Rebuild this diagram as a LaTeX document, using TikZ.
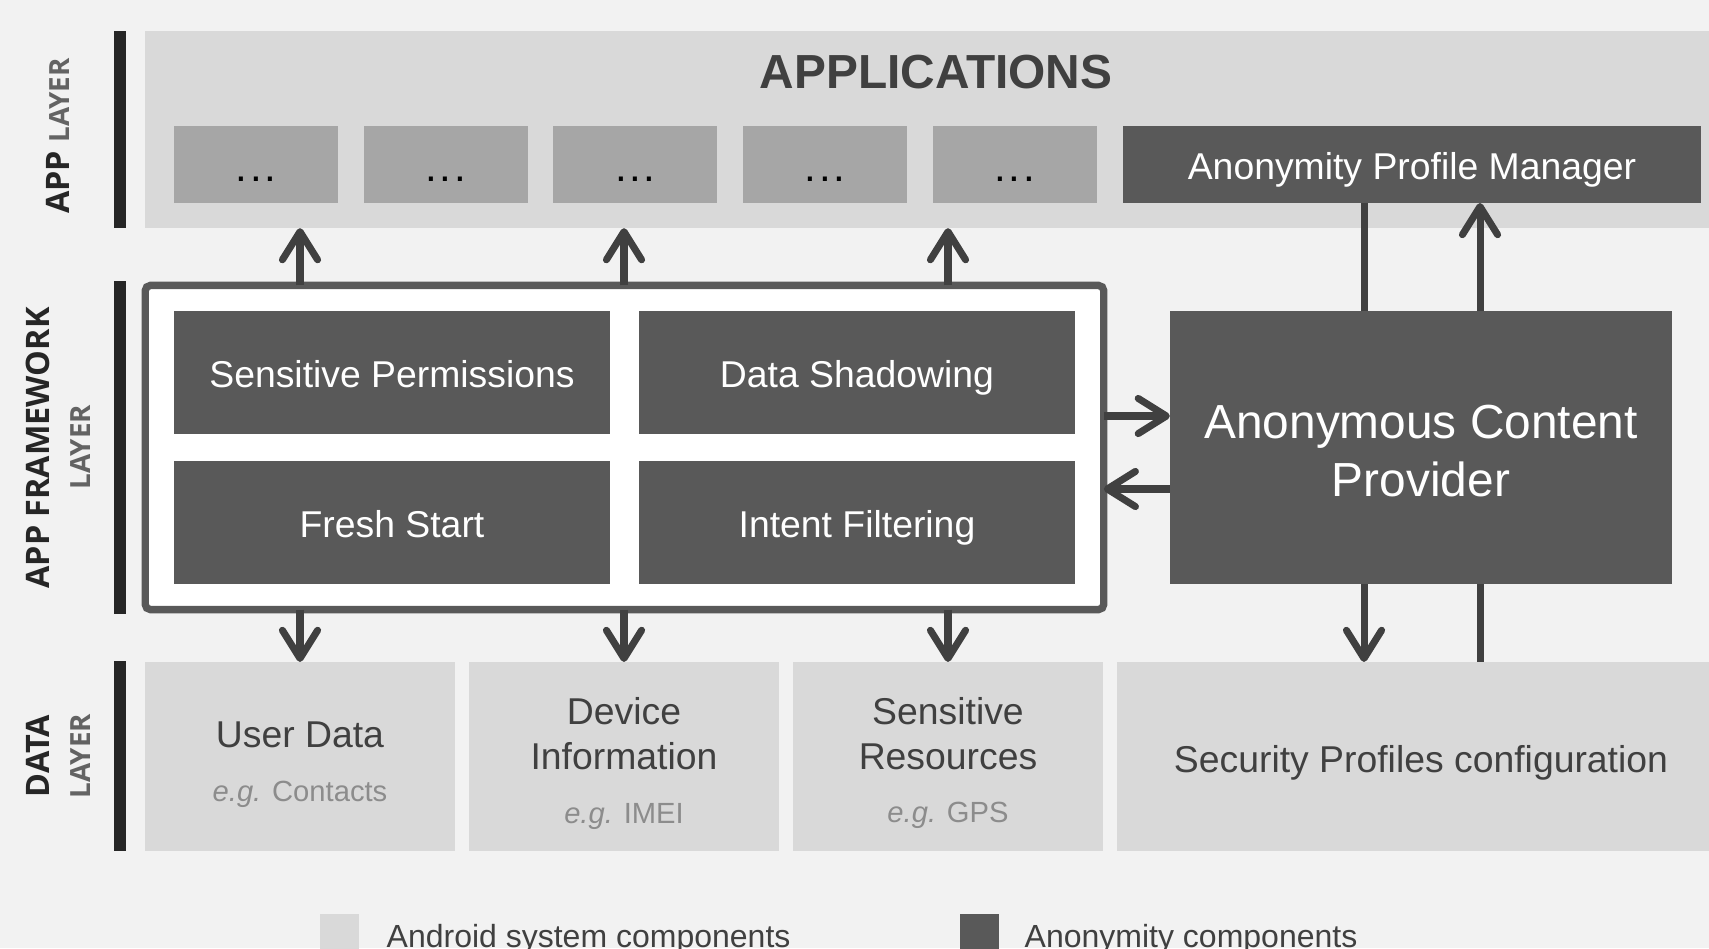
\documentclass[tikz,border=0pt]{standalone}
\usepackage{fontspec}
\setmainfont{Liberation Sans}
\newfontfamily\labfont{Open Sans}
\usetikzlibrary{arrows.meta}
\definecolor{bgc}{HTML}{F2F2F2}
\definecolor{lightc}{HTML}{D9D9D9}
\definecolor{midc}{HTML}{A6A6A6}
\definecolor{darkc}{HTML}{595959}
\definecolor{arrc}{HTML}{404040}
\definecolor{txtc}{HTML}{404040}
\definecolor{egc}{HTML}{8C8C8C}
\definecolor{barc}{HTML}{262626}
\definecolor{labc}{HTML}{262626}
\definecolor{labtwoc}{HTML}{636363}
\newcommand\fsbox{\fontsize{10.62pt}{12.7pt}\selectfont}
\newcommand\fsbig{\fontsize{13.6pt}{16.5pt}\selectfont}
\newcommand\fseg{\fontsize{8.3pt}{10pt}\selectfont}
\newcommand\fsleg{\fontsize{9.1pt}{11pt}\selectfont}
\newcommand\fslab{\fontsize{9.2pt}{11pt}\selectfont}
\newcommand\fslabs{\fontsize{7.9pt}{10pt}\selectfont}
\newcommand\appdots{.\hspace{0.75pt}.\hspace{0.75pt}.}
\begin{document}
\begin{tikzpicture}[x=0.01cm,y=-0.01cm,
  box/.style={rectangle, inner sep=0pt, outer sep=0pt},
  lightbox/.style={box, fill=lightc},
  appbox/.style={box, fill=midc, minimum width=1.64cm, minimum height=0.77cm,
     font=\fontsize{12pt}{14pt}\selectfont, text=black, text height=9.6pt, text depth=0pt},
  darkbox/.style={box, fill=darkc, text=white, font=\fsbox, text height=8.8pt, text depth=0pt},
  bar/.style={box, fill=barc, minimum width=0.11cm},
  boxtext/.style={anchor=base, font=\fsbox, text=txtc, inner sep=0pt},
  bigtext/.style={anchor=base, font=\fsbig, text=white, inner sep=0pt},
  egtext/.style={anchor=base, font=\fseg, text=egc, inner sep=0pt},
  lab/.style={rotate=90, inner sep=0pt, font=\labfont\fslab\bfseries, text=labc},
  labsmall/.style={rotate=90, inner sep=0pt, font=\labfont\fslabs\bfseries, text=labtwoc},
  conn/.style={draw=arrc, line width=2pt},
  arr/.style={conn, -{Straight Barb[length=8pt,width=10pt,round]}},
  legtext/.style={anchor=base west, font=\fsleg, text=txtc, inner sep=0pt}
]
\useasboundingbox (0,0) rectangle (1709,948);
\clip (0,0) rectangle (1709,948);
\fill[bgc] (0,0) rectangle (1709,948);

% layer bars and labels
\node[bar, minimum height=1.97cm] (barapp) at (120,129.5) {};
\node[bar, minimum height=3.33cm] (barfw) at (120,447.5) {};
\node[bar, minimum height=1.90cm] (bardata) at (120,756) {};
\node[lab] (labapp) at (58,136) {APP {\fslabs\color{labtwoc}LAYER}};
\node[lab] (labfw) at (38,448) {APP FRAMEWORK};
\node[labsmall] (labfwl) at (81,447) {LAYER};
\node[lab] (labdata) at (38,756) {DATA};
\node[labsmall] (labdatal) at (81,756) {LAYER};

% app layer
\node[lightbox, minimum width=15.80cm, minimum height=1.97cm, anchor=north west] (appbg) at (145,31) {};
\node[anchor=base, font=\fsbig\bfseries, text=arrc, inner sep=0pt] (apptitle) at (936,88) {APPLICATIONS};
\node[appbox] (a1) at (256,164.5) {\appdots};
\node[appbox] (a2) at (445.7,164.5) {\appdots};
\node[appbox] (a3) at (635.4,164.5) {\appdots};
\node[appbox] (a4) at (825.1,164.5) {\appdots};
\node[appbox] (a5) at (1014.8,164.5) {\appdots};
\node[darkbox, minimum width=5.78cm, minimum height=0.77cm] (apm) at (1412,164.5) {Anonymity Profile Manager};

% framework layer
\node[box, draw=darkc, fill=white, line width=2.1pt, rounded corners=1.5pt,
      minimum width=9.58cm, minimum height=3.24cm] (frame) at (624.5,447.5) {};
\node[darkbox, minimum width=4.36cm, minimum height=1.23cm] (sp) at (392,372.5) {Sensitive Permissions};
\node[darkbox, minimum width=4.36cm, minimum height=1.23cm] (ds) at (857,372.5) {Data Shadowing};
\node[darkbox, minimum width=4.36cm, minimum height=1.23cm] (fs) at (392,522.5) {Fresh Start};
\node[darkbox, minimum width=4.36cm, minimum height=1.23cm] (if) at (857,522.5) {Intent Filtering};
\node[box, fill=darkc, minimum width=5.02cm, minimum height=2.73cm] (acp) at (1421,447.5) {};
\node[bigtext] (acpt) at (1421,438.5) {Anonymous Content};
\node[bigtext] (acpt2) at (1421,496.5) {Provider};

% data layer
\node[lightbox, minimum width=3.10cm, minimum height=1.89cm] (ud) at (300,756.5) {};
\node[lightbox, minimum width=3.10cm, minimum height=1.89cm] (di) at (624,756.5) {};
\node[lightbox, minimum width=3.10cm, minimum height=1.89cm] (sr) at (948,756.5) {};
\node[lightbox, minimum width=6.10cm, minimum height=1.89cm, anchor=west] (sec) at (1117,756.5) {};
\node[boxtext] (udt) at (300,747) {User Data};
\node[egtext] (ude) at (300,801) {\textit{e.g.} Contacts};
\node[boxtext] (dit) at (624,724) {Device};
\node[boxtext] (dit2) at (624,769) {Information};
\node[egtext] (die) at (624,823) {\textit{e.g.} IMEI};
\node[boxtext] (srt) at (948,724) {Sensitive};
\node[boxtext] (srt2) at (948,769) {Resources};
\node[egtext] (sre) at (948,822) {\textit{e.g.} GPS};
\node[boxtext] (sect) at (1421,772) {Security Profiles configuration};

% connectors
\coordinate (ra) at (0,416);
\coordinate (la) at (0,489);
\coordinate (va) at (1364,0);
\coordinate (vb) at (1480,0);
\draw[arr] (frame.north -| ud) -- (appbg.south -| ud);
\draw[arr] (frame.north -| di) -- (appbg.south -| di);
\draw[arr] (frame.north -| sr) -- (appbg.south -| sr);
\draw[arr] (frame.south -| ud) -- (ud.north);
\draw[arr] (frame.south -| di) -- (di.north);
\draw[arr] (frame.south -| sr) -- (sr.north);
\draw[arr] (frame.east |- ra) -- (acp.west |- ra);
\draw[arr] (acp.west |- la) -- (frame.east |- la);
\draw[conn] (apm.south -| va) -- (acp.north -| va);
\draw[arr] (acp.south -| va) -- (sec.north -| va);
\draw[conn] (sec.north -| vb) -- (acp.south -| vb);
\draw[arr] (acp.north -| vb) -- (apm.south -| vb);

% legend
\node[box, fill=lightc, minimum width=0.39cm, minimum height=0.5cm, anchor=north west] (legl) at (320,914) {};
\node[legtext] (legltxt) at (386,947) {Android system components};
\node[box, fill=darkc, minimum width=0.39cm, minimum height=0.5cm, anchor=north west] (legd) at (960,914) {};
\node[legtext] (legdtxt) at (1024,947) {Anonymity components};
\end{tikzpicture}
\end{document}
